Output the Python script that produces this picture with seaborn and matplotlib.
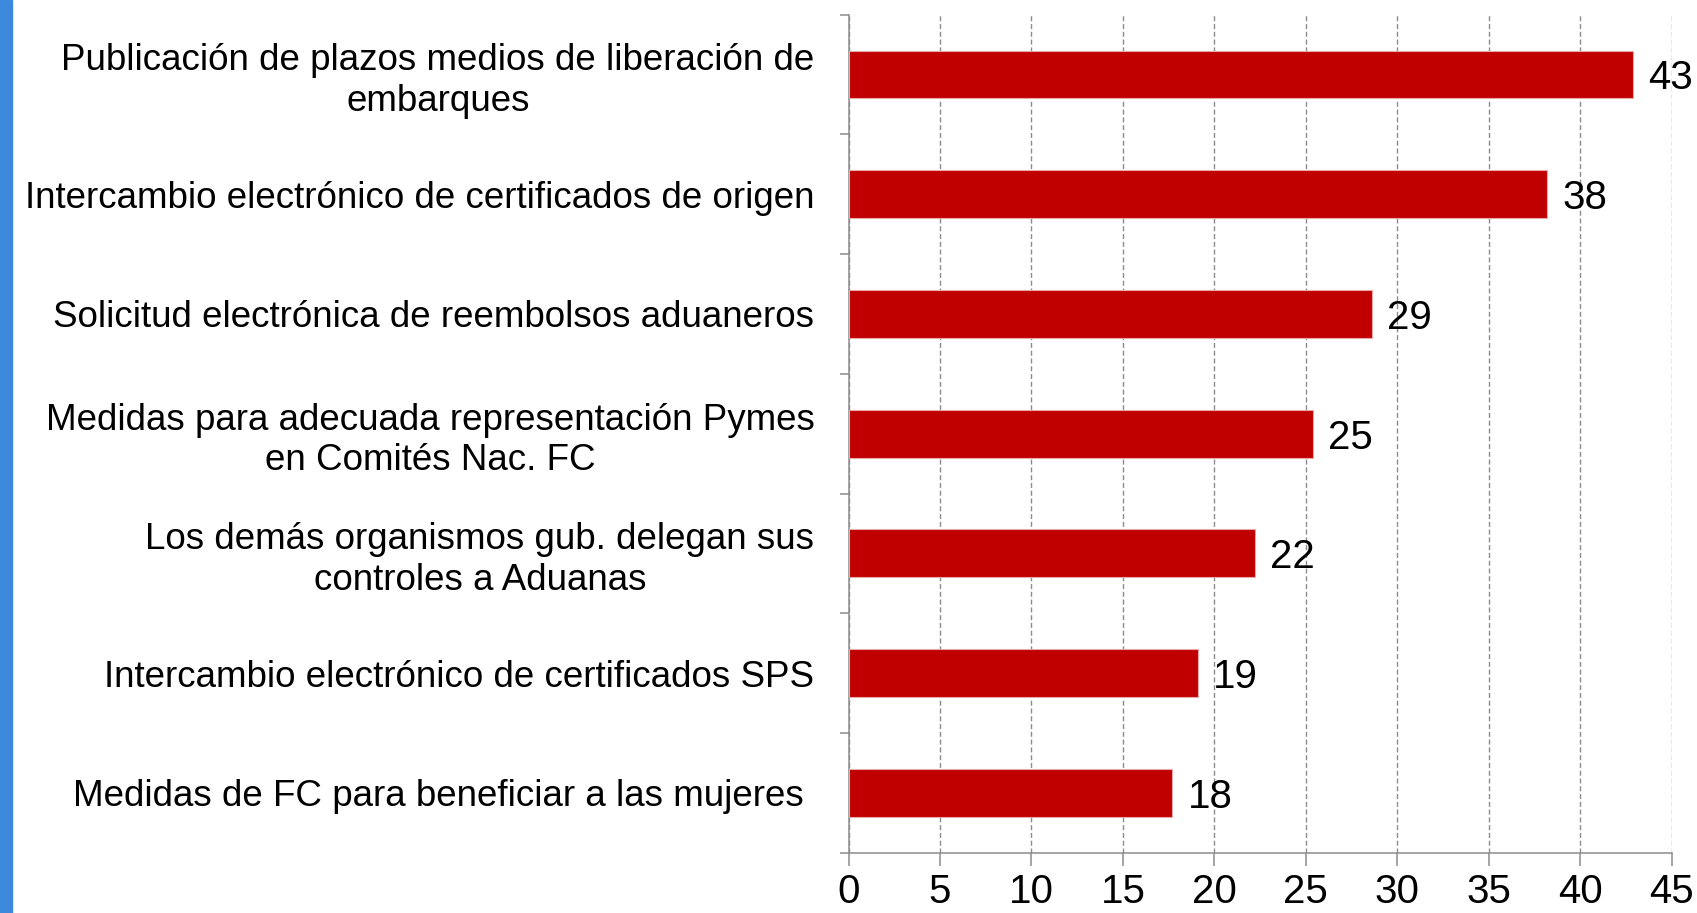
import numpy as np
import pandas as pd
import matplotlib
matplotlib.use("Agg")
import matplotlib.pyplot as plt
from matplotlib.patches import Rectangle
from matplotlib.ticker import FixedLocator
import seaborn as sns

categories = [
    "Publicación de plazos medios de liberación de\nembarques",
    "Intercambio electrónico de certificados de origen",
    "Solicitud electrónica de reembolsos aduaneros",
    "Medidas para adecuada representación Pymes\nen Comités Nac. FC",
    "Los demás organismos gub. delegan sus\ncontroles a Aduanas",
    "Intercambio electrónico de certificados SPS",
    "Medidas de FC para beneficiar a las mujeres ",
]
values = [42.9, 38.2, 28.6, 25.4, 22.2, 19.1, 17.7]
x_ticks = [0, 5, 10, 15, 20, 25, 30, 35, 40, 45]

data = pd.DataFrame({"Medida": categories, "Valor": values})

sns.set_style("white")
plt.rcParams['font.family'] = ['Liberation Sans', 'DejaVu Sans']

fig = plt.figure(figsize=(16.97, 9.13), dpi=100)
ax = fig.add_axes([0.5, 0.066, 0.485, 0.918])

# blue strip on the left edge
fig.patches.append(Rectangle((0, 0), 12 / 1697, 1, transform=fig.transFigure,
                             color='#3C88DA', zorder=0))

sns.barplot(data=data, x="Valor", y="Medida", orient='h', color='#C00000',
            width=0.4, edgecolor='#E8A8A8', linewidth=0.8, saturation=1, ax=ax, zorder=3)

for i, v in enumerate(values):
    ax.annotate(f"{round(v):d}", (v, i), xytext=(11, 0), textcoords='offset points',
                ha='left', va='center_baseline', fontsize=29, color='black')

ax.set_xlim(0, 45)
ax.set_ylim(6.5, -0.5)
ax.set_xticks(x_ticks)
ax.set_xticklabels([str(t) for t in x_ticks], fontsize=29)
ax.xaxis.grid(True, color='#8C8C8C', linestyle=(0, (3.6, 2)), linewidth=1.0, zorder=0)
ax.yaxis.grid(False)
ax.set_axisbelow(True)

ax.set_xlabel("")
ax.set_ylabel("")
for lab in ax.get_yticklabels():
    lab.set_multialignment('center')
    lab.set_fontsize(26.5)
ax.yaxis.set_minor_locator(FixedLocator(np.arange(-0.5, 7, 1)))
ax.tick_params(axis='y', which='major', length=0, pad=24.5, colors='black')
ax.tick_params(axis='y', which='minor', left=True, length=6.5, width=1.1, color='#8C8C8C')
ax.tick_params(axis='x', which='major', bottom=True, length=9.4, width=1.1,
               color='#8C8C8C', pad=5, labelcolor='black')

for side in ['top', 'right']:
    ax.spines[side].set_visible(False)
for side in ['left', 'bottom']:
    ax.spines[side].set_color('#8C8C8C')
    ax.spines[side].set_linewidth(1.1)

fig.savefig("out.png", dpi=100)
